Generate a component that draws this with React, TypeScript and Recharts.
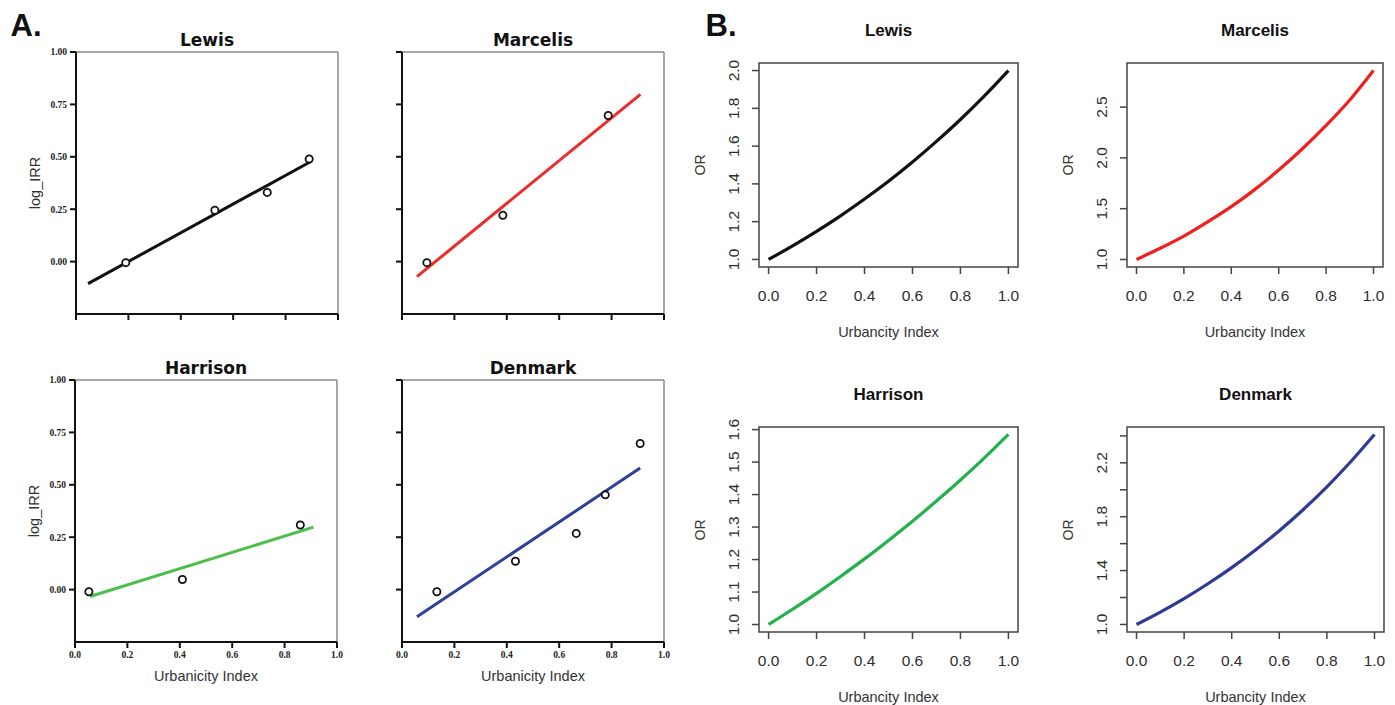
import React from 'react';
import {
  ComposedChart,
  LineChart,
  Line,
  Scatter,
  XAxis,
  YAxis,
  ReferenceLine,
  ReferenceArea,
} from 'recharts';

// ---- Panel A: observed log IRR by study, with fitted line ----
const lewisX = [0.19, 0.53, 0.73, 0.89];
const lewisY = [-0.005, 0.245, 0.33, 0.49];
const lewisFitX = [0.046, 0.9];
const lewisFitY = [-0.105, 0.48];

const marcelisX = [0.095, 0.385, 0.787];
const marcelisY = [-0.005, 0.221, 0.697];
const marcelisFitX = [0.057, 0.91];
const marcelisFitY = [-0.072, 0.798];

const harrisonX = [0.053, 0.41, 0.86];
const harrisonY = [-0.01, 0.048, 0.308];
const harrisonFitX = [0.057, 0.91];
const harrisonFitY = [-0.033, 0.298];

const denmarkX = [0.133, 0.433, 0.665, 0.776, 0.909];
const denmarkY = [-0.01, 0.135, 0.268, 0.452, 0.697];
const denmarkFitX = [0.057, 0.909];
const denmarkFitY = [-0.13, 0.58];

const irrTicks = [0, 0.25, 0.5, 0.75, 1];
const urbTicks = [0, 0.2, 0.4, 0.6, 0.8, 1];

// ---- Panel B: odds ratio curves ----
const orGrid = [0, 0.1, 0.2, 0.3, 0.4, 0.5, 0.6, 0.7, 0.8, 0.9, 1.0];
const lewisOR = [1.0, 1.072, 1.149, 1.231, 1.32, 1.414, 1.516, 1.625, 1.741, 1.866, 2.0];
const marcelisOR = [1.0, 1.11, 1.23, 1.37, 1.52, 1.69, 1.88, 2.09, 2.32, 2.57, 2.86];
const harrisonOR = [1.0, 1.047, 1.096, 1.148, 1.202, 1.259, 1.318, 1.38, 1.445, 1.513, 1.585];
const denmarkOR = [1.0, 1.092, 1.192, 1.302, 1.422, 1.553, 1.696, 1.852, 2.022, 2.208, 2.41];

const lewisORTicks = [1.0, 1.2, 1.4, 1.6, 1.8, 2.0];
const marcelisORTicks = [1.0, 1.5, 2.0, 2.5];
const harrisonORTicks = [1.0, 1.1, 1.2, 1.3, 1.4, 1.5, 1.6];
const denmarkORTicks = [1.0, 1.2, 1.4, 1.6, 1.8, 2.0, 2.2, 2.4];
const denmarkORLabels = [1.0, 1.4, 1.8, 2.2];

const SANS = '"Liberation Sans", Arial, sans-serif';
const SERIF = '"Liberation Serif", "Times New Roman", serif';
const BOLD = '"DejaVu Sans", Verdana, sans-serif';

function Txt({ x, y, children, size = 14, weight = 400, rotate = 0, color = '#222', font = SANS }: any) {
  return (
    <div
      style={{
        position: 'absolute',
        left: x,
        top: y,
        transform: `translate(-50%, -50%) rotate(${rotate}deg)`,
        whiteSpace: 'nowrap',
        fontSize: size,
        fontWeight: weight,
        fontFamily: font,
        color,
        lineHeight: 1,
      }}
    >
      {children}
    </div>
  );
}

const PW = 262;
const PH = 262;
const AY = 56;

function PanelA({ left, top, title, xs, ys, fitX, fitY, color, yLabels, xLabels }: any) {
  const pts = xs.map((x: number, i: number) => ({ x, y: ys[i] }));
  const fit = fitX.map((x: number, i: number) => ({ x, y: fitY[i] }));
  const tickStyle = { fontSize: 9.5, fontWeight: 700, fill: '#222', fontFamily: SERIF };
  const axisStroke = { stroke: '#111', strokeWidth: 2 };
  return (
    <>
      <div style={{ position: 'absolute', left: left - AY, top: top - 10 }}>
        <ComposedChart width={PW + AY + 12} height={PH + 10 + 30} margin={{ top: 10, right: 12, left: 0, bottom: 0 }}>
          <XAxis
            type="number"
            dataKey="x"
            domain={[0, 1]}
            ticks={urbTicks}
            interval={0}
            height={30}
            tickSize={6}
            tickMargin={3}
            axisLine={axisStroke}
            tickLine={axisStroke}
            tick={tickStyle}
            tickFormatter={(v: number) => (xLabels ? v.toFixed(1) : '')}
          />
          <YAxis
            type="number"
            domain={[-0.25, 1]}
            ticks={irrTicks}
            interval={0}
            width={AY}
            tickSize={6}
            tickMargin={3}
            axisLine={axisStroke}
            tickLine={axisStroke}
            tick={tickStyle}
            tickFormatter={(v: number) => (yLabels ? v.toFixed(2) : '')}
          />
          <ReferenceLine y={1} stroke="#8a8a8a" strokeWidth={1.5} />
          <ReferenceLine x={1} stroke="#8a8a8a" strokeWidth={1.5} />
          <Line data={fit} dataKey="y" stroke={color} strokeWidth={3} dot={false} isAnimationActive={false} />
          <Scatter
            data={pts}
            dataKey="y"
            isAnimationActive={false}
            shape={(p: any) => <circle cx={p.cx} cy={p.cy} r={3.6} fill="#fff" stroke="#111" strokeWidth={1.8} />}
          />
        </ComposedChart>
      </div>
      <Txt x={left + PW / 2} y={top - 12} size={17} weight={700} font={BOLD} color="#111">
        {title}
      </Txt>
      {yLabels && (
        <Txt x={left - 41} y={top + PH / 2} rotate={-90} size={14.5} color="#333">
          log_IRR
        </Txt>
      )}
      {xLabels && (
        <Txt x={left + PW / 2} y={top + PH + 34} size={14.5} color="#333">
          Urbanicity Index
        </Txt>
      )}
    </>
  );
}

const BY = 72;
const BX = 75;
const BT = 16;

function RotTick({ x, y, payload, labels }: any) {
  if (!labels.includes(payload.value)) return null;
  return (
    <text
      x={x}
      y={y}
      transform={`rotate(-90 ${x} ${y})`}
      textAnchor="middle"
      fill="#2e2e2e"
      fontSize={15.5}
      fontFamily={SANS}
    >
      {payload.value.toFixed(1)}
    </text>
  );
}

function PanelB({ left, top, w, h, title, ys, yDomain, yTicks, yLabels, color }: any) {
  const data = orGrid.map((x, i) => ({ x, y: ys[i] }));
  const tickLine = { stroke: '#444', strokeWidth: 1.5 };
  return (
    <>
      <div style={{ position: 'absolute', left: left - BY, top: top - BT }}>
        <LineChart width={w + BY + 5} height={h + BT + BX} data={data} margin={{ top: BT, right: 5, left: 0, bottom: 0 }}>
          <XAxis
            type="number"
            dataKey="x"
            domain={[-0.04, 1.04]}
            ticks={urbTicks}
            interval={0}
            height={BX}
            tickSize={7}
            tickMargin={16}
            axisLine={false}
            tickLine={tickLine}
            tick={{ fontSize: 15.5, fill: '#2e2e2e', fontFamily: SANS }}
            tickFormatter={(v: number) => v.toFixed(1)}
          />
          <YAxis
            type="number"
            domain={yDomain}
            ticks={yTicks}
            interval={0}
            width={BY}
            tickSize={7}
            tickMargin={13}
            axisLine={false}
            tickLine={tickLine}
            tick={<RotTick labels={yLabels} />}
          />
          <ReferenceArea
            x1={-0.04}
            x2={1.04}
            y1={yDomain[0]}
            y2={yDomain[1]}
            fill="none"
            fillOpacity={0}
            stroke="#444"
            strokeWidth={1.5}
          />
          <Line type="monotone" dataKey="y" stroke={color} strokeWidth={3.2} dot={false} isAnimationActive={false} />
        </LineChart>
      </div>
      <Txt x={left + w / 2} y={top - 33} size={17} weight={700} color="#111">
        {title}
      </Txt>
      <Txt x={left - 59} y={top + h / 2} rotate={-90} size={14} color="#333">
        OR
      </Txt>
      <Txt x={left + w / 2} y={top + h + 65} size={14.5} color="#333">
        Urbancity Index
      </Txt>
    </>
  );
}

export default function App() {
  return (
    <div
      style={{
        position: 'absolute',
        left: 0,
        top: 0,
        width: 1395,
        height: 705,
        background: '#fff',
        fontFamily: SANS,
        overflow: 'hidden',
      }}
    >
      <Txt x={26} y={25} size={31} weight={700} color="#111">
        A.
      </Txt>
      <Txt x={721} y={25} size={31} weight={700} color="#111">
        B.
      </Txt>

      <PanelA left={76} top={52} title="Lewis" xs={lewisX} ys={lewisY} fitX={lewisFitX} fitY={lewisFitY} color="#111" yLabels xLabels={false} />
      <PanelA left={402} top={52} title="Marcelis" xs={marcelisX} ys={marcelisY} fitX={marcelisFitX} fitY={marcelisFitY} color="#ef2a2a" yLabels={false} xLabels={false} />
      <PanelA left={75} top={380} title="Harrison" xs={harrisonX} ys={harrisonY} fitX={harrisonFitX} fitY={harrisonFitY} color="#4cbf4a" yLabels xLabels />
      <PanelA left={402} top={380} title="Denmark" xs={denmarkX} ys={denmarkY} fitX={denmarkFitX} fitY={denmarkFitY} color="#2f3f9c" yLabels={false} xLabels />

      <PanelB left={759} top={63} w={259} h={204} title="Lewis" ys={lewisOR} yDomain={[0.96, 2.04]} yTicks={lewisORTicks} yLabels={lewisORTicks} color="#111" />
      <PanelB left={1127} top={63} w={256} h={204} title="Marcelis" ys={marcelisOR} yDomain={[0.926, 2.934]} yTicks={marcelisORTicks} yLabels={marcelisORTicks} color="#f0201e" />
      <PanelB left={759} top={427} w={259} h={205} title="Harrison" ys={harrisonOR} yDomain={[0.977, 1.608]} yTicks={harrisonORTicks} yLabels={harrisonORTicks} color="#22b14c" />
      <PanelB left={1127} top={427} w={257} h={205} title="Denmark" ys={denmarkOR} yDomain={[0.944, 2.466]} yTicks={denmarkORTicks} yLabels={denmarkORLabels} color="#2e3a96" />
    </div>
  );
}
